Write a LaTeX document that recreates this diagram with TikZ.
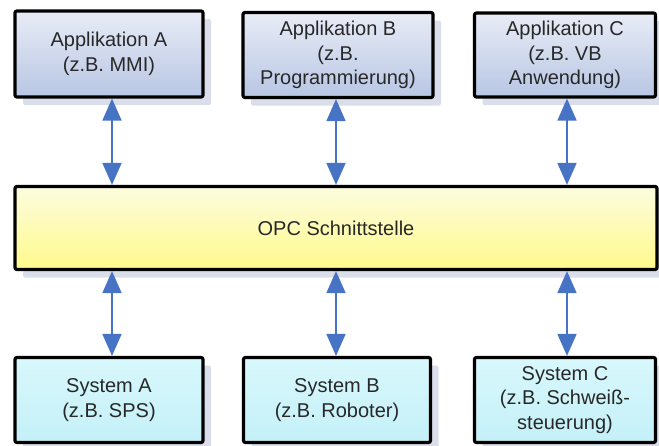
\documentclass[tikz,border=0pt]{standalone}
\usepackage{fontspec}
\setmainfont{Liberation Sans}
\usepackage{tikz}
\usetikzlibrary{arrows.meta,positioning,shadows}

\definecolor{apptop}{RGB}{232,236,246}
\definecolor{appbot}{RGB}{184,198,228}
\definecolor{opctop}{RGB}{252,252,222}
\definecolor{opcbot}{RGB}{255,250,140}
\definecolor{systop}{RGB}{216,248,252}
\definecolor{sysbot}{RGB}{196,240,248}
\definecolor{linkblue}{RGB}{70,115,195}
\definecolor{textgray}{RGB}{40,40,40}
\definecolor{shadowgray}{RGB}{218,222,234}

\tikzset{
  box/.style={draw=black,line width=3.2pt,rounded corners=2pt,
    align=center,inner sep=0pt,text=textgray,
    font=\fontsize{20}{24.5}\selectfont,
    drop shadow={shadow xshift=8pt,shadow yshift=-8pt,fill=shadowgray,opacity=1}},
  appbox/.style={box,top color=apptop,bottom color=appbot},
  sysbox/.style={box,top color=systop,bottom color=sysbot},
  opcbox/.style={box,top color=opctop,bottom color=opcbot},
  link/.style={{Triangle[width=19pt,length=22pt]}-{Triangle[width=19pt,length=22pt]},
    line width=1.8pt,draw=linkblue}
}

\begin{document}
\begin{tikzpicture}[x=1pt,y=-1pt]
  \useasboundingbox (0,0) rectangle (659,445);

  % Applikationen
  \node[appbox,minimum width=188pt,minimum height=86pt] (appA) at (109,54)
    {Applikation A\\(z.B. MMI)};
  \node[appbox,minimum width=190pt,minimum height=85pt] (appB) at (338,55)
    {Applikation B\\(z.B.\\Programmierung)};
  \node[appbox,minimum width=181pt,minimum height=84pt] (appC) at (565,55)
    {Applikation C\\(z.B. VB\\Anwendung)};

  % Schnittstelle
  \node[opcbox,minimum width=642pt,minimum height=83pt] (opc) at (336,228)
    {OPC Schnittstelle};

  % Systeme
  \node[sysbox,minimum width=188pt,minimum height=85pt] (sysA) at (109,400)
    {System A\\(z.B. SPS)};
  \node[sysbox,minimum width=187pt,minimum height=85pt] (sysB) at (337,400)
    {System B\\(z.B. Roboter)};
  \node[sysbox,minimum width=181pt,minimum height=85pt] (sysC) at (565,400)
    {System C\\(z.B. Schwei\ss-\\steuerung)};

  % Verbindungen
  \coordinate (ta) at (112,0);
  \coordinate (tb) at (336,0);
  \coordinate (tc) at (567,0);
  \draw[link] (ta |- appA.south) -- (ta |- opc.north);
  \draw[link] (tb |- appB.south) -- (tb |- opc.north);
  \draw[link] (tc |- appC.south) -- (tc |- opc.north);
  \draw[link] (ta |- opc.south) -- (ta |- sysA.north);
  \draw[link] (tb |- opc.south) -- (tb |- sysB.north);
  \draw[link] (tc |- opc.south) -- (tc |- sysC.north);
\end{tikzpicture}
\end{document}
